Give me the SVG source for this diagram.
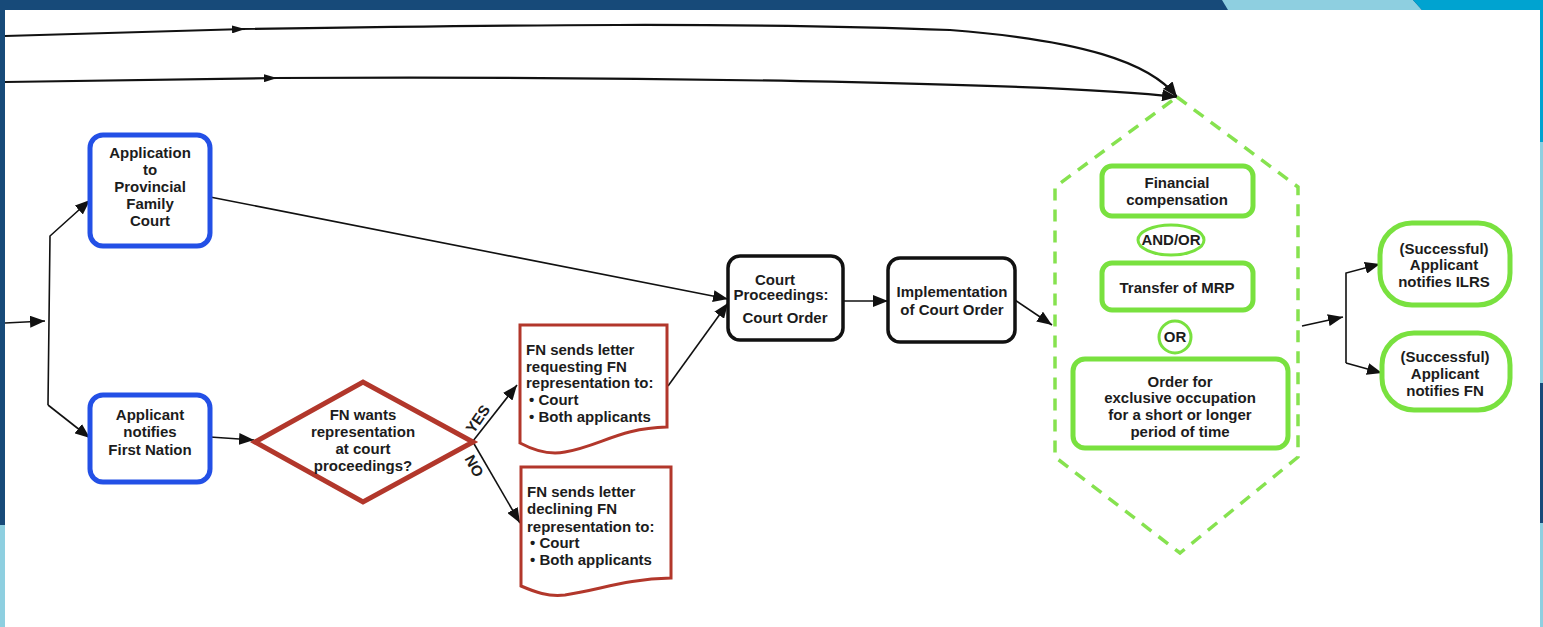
<svg xmlns="http://www.w3.org/2000/svg" width="1543" height="627" viewBox="0 0 1543 627">
  <style>
    text { font-family: "Liberation Sans", Arial, sans-serif; font-weight: bold; font-size: 15px; fill: #1c1c1c; }
    .c { text-anchor: middle; }
    .blue { fill: #fff; stroke: #2350e6; stroke-width: 5; }
    .black { fill: #fff; stroke: #111; stroke-width: 3.5; }
    .red { fill: #fff; stroke: #b2372b; stroke-width: 3; }
    .redd { fill: #fff; stroke: #b2372b; stroke-width: 5; stroke-linejoin: miter; }
    .green { fill: #fff; stroke: #79e13f; stroke-width: 5; }
    .greent { fill: #fff; stroke: #79e13f; stroke-width: 3; }
    .hex { fill: none; stroke: #86e24f; stroke-width: 3.5; stroke-dasharray: 12 9; }
    .ln { fill: none; stroke: #111; stroke-width: 1.6; }
    .lt { fill: none; stroke: #111; stroke-width: 2.2; }
  </style>
  <defs>
    <marker id="arr" markerUnits="userSpaceOnUse" markerWidth="16" markerHeight="12" refX="15" refY="6" orient="auto">
      <path d="M0,0 L15,6 L0,12 z" fill="#111"/>
    </marker>
    <marker id="arrs" markerUnits="userSpaceOnUse" markerWidth="14" markerHeight="8" refX="13" refY="4" orient="auto">
      <path d="M0,0 L13,4 L0,8 z" fill="#111"/>
    </marker>
  </defs>

  <!-- page frame -->
  <rect x="0" y="0" width="1543" height="627" fill="#fff"/>
  <rect x="0" y="0" width="1543" height="10" fill="#174a79"/>
  <polygon points="1222,0 1413,0 1422,10 1228,10" fill="#8ecfe0"/>
  <polygon points="1413,0 1543,0 1543,10 1422,10" fill="#00a3d0"/>
  <rect x="0" y="0" width="5" height="525" fill="#174a79"/>
  <rect x="0" y="525" width="5" height="102" fill="#8ecfe0"/>
  <rect x="1540" y="0" width="3" height="142" fill="#00a3d0"/>
  <rect x="1540" y="142" width="3" height="241" fill="#8ecfe0"/>
  <rect x="1540" y="383" width="3" height="140" fill="#174a79"/>
  <rect x="1540" y="523" width="3" height="104" fill="#8ecfe0"/>

  <!-- connectors -->
  <g id="connectors">
    <path class="lt" d="M5,36 L245,29" marker-end="url(#arrs)"/>
    <path class="lt" d="M240,29 C500,25 750,22 950,30 C1080,40 1150,62 1177,97" marker-end="url(#arr)"/>
    <path class="lt" d="M5,82 L277,78" marker-end="url(#arrs)"/>
    <path class="lt" d="M272,78 C600,76 1050,82 1177,97" marker-end="url(#arr)"/>

    <path class="ln" d="M5,323 L45,321" marker-end="url(#arr)"/>
    <path class="ln" d="M48,405 L50,236 L90,200" marker-end="url(#arr)"/>
    <path class="ln" d="M48,405 L90,438" marker-end="url(#arr)"/>
    <path class="ln" d="M210,197 L728,299" marker-end="url(#arr)"/>
    <path class="ln" d="M210,437 L254,440" marker-end="url(#arr)"/>
    <path class="ln" d="M473,441 L517,385" marker-end="url(#arr)"/>
    <path class="ln" d="M473,442 L520,523" marker-end="url(#arr)"/>
    <path class="ln" d="M668,386 L728,303" marker-end="url(#arr)"/>
    <path class="ln" d="M843,301 L888,301" marker-end="url(#arr)"/>
    <path class="ln" d="M1015,300 L1052,325" marker-end="url(#arr)"/>
    <path class="ln" d="M1302,326 L1343,317" marker-end="url(#arr)"/>
    <path class="ln" d="M1346,363 L1346,273 L1380,264" marker-end="url(#arr)"/>
    <path class="ln" d="M1346,363 L1382,373" marker-end="url(#arr)"/>

    <text x="478" y="424" font-size="14" class="c" transform="rotate(-55 478 419)">YES</text>
    <text x="474" y="471" font-size="14" class="c" transform="rotate(62 474 466)">NO</text>
  </g>

  <g id="app-court">
    <rect class="blue" x="90" y="135" width="120" height="111" rx="13"/>
    <text class="c" x="150" y="158">Application</text>
    <text class="c" x="150" y="175">to</text>
    <text class="c" x="150" y="192">Provincial</text>
    <text class="c" x="150" y="209">Family</text>
    <text class="c" x="150" y="226">Court</text>
  </g>

  <g id="notify-fn">
    <rect class="blue" x="90" y="395" width="120" height="87" rx="13"/>
    <text class="c" x="150" y="420">Applicant</text>
    <text class="c" x="150" y="437">notifies</text>
    <text class="c" x="150" y="455">First Nation</text>
  </g>

  <g id="decision">
    <polygon class="redd" points="255,442 363,382 473,442 363,502"/>
    <text class="c" x="363" y="420">FN wants</text>
    <text class="c" x="363" y="437">representation</text>
    <text class="c" x="363" y="454">at court</text>
    <text class="c" x="363" y="471">proceedings?</text>
  </g>

  <g id="letter-request">
    <path class="red" d="M520,325 L667,325 L667,427 C620,428 600,446 565,452 C550,455 535,451 520,443 Z"/>
    <text x="526" y="355">FN sends letter</text>
    <text x="526" y="372">requesting FN</text>
    <text x="526" y="388">representation to:</text>
    <text x="529" y="405">• Court</text>
    <text x="529" y="422">• Both applicants</text>
  </g>

  <g id="letter-decline">
    <path class="red" d="M521,467 L671,467 L671,578 C625,579 600,590 565,595 C548,597 535,592 521,586 Z"/>
    <text x="527" y="497">FN sends letter</text>
    <text x="527" y="514">declining FN</text>
    <text x="527" y="532">representation to:</text>
    <text x="530" y="548">• Court</text>
    <text x="530" y="565">• Both applicants</text>
  </g>

  <g id="court-proceedings">
    <rect class="black" x="728" y="256" width="115" height="84" rx="12"/>
    <text class="c" x="775" y="285">Court</text>
    <text class="c" x="781" y="300">Proceedings:</text>
    <text class="c" x="785" y="323">Court Order</text>
  </g>

  <g id="implementation">
    <rect class="black" x="888" y="258" width="127" height="84" rx="12"/>
    <text class="c" x="952" y="297" font-size="14">Implementation</text>
    <text class="c" x="952" y="315" font-size="14">of Court Order</text>
  </g>

  <g id="outcomes">
    <polygon class="hex" points="1177,97 1298,187 1298,457 1180,553 1055,457 1055,187"/>
    <rect class="green" x="1102" y="166" width="151" height="50" rx="10"/>
    <text class="c" x="1177" y="188">Financial</text>
    <text class="c" x="1177" y="205">compensation</text>
    <ellipse class="greent" cx="1171" cy="240" rx="33" ry="15"/>
    <text class="c" x="1171" y="245" font-size="14">AND/OR</text>
    <rect class="green" x="1102" y="263" width="151" height="47" rx="10"/>
    <text class="c" x="1177" y="293">Transfer of MRP</text>
    <circle class="greent" cx="1175" cy="337" r="16"/>
    <text class="c" x="1175" y="342" font-size="14">OR</text>
    <rect class="green" x="1073" y="359" width="215" height="89" rx="12"/>
    <text class="c" x="1180" y="387">Order  for</text>
    <text class="c" x="1180" y="403">exclusive occupation</text>
    <text class="c" x="1180" y="420">for a short or longer</text>
    <text class="c" x="1180" y="437">period of time</text>
  </g>

  <g id="notify-ilrs">
    <rect class="green" x="1380" y="223" width="130" height="82" rx="32"/>
    <text class="c" x="1444" y="254">(Successful)</text>
    <text class="c" x="1444" y="270">Applicant</text>
    <text class="c" x="1444" y="287">notifies ILRS</text>
  </g>

  <g id="notify-fn-final">
    <rect class="green" x="1382" y="333" width="128" height="77" rx="32"/>
    <text class="c" x="1445" y="362">(Successful)</text>
    <text class="c" x="1445" y="379">Applicant</text>
    <text class="c" x="1445" y="396">notifies FN</text>
  </g>
</svg>
